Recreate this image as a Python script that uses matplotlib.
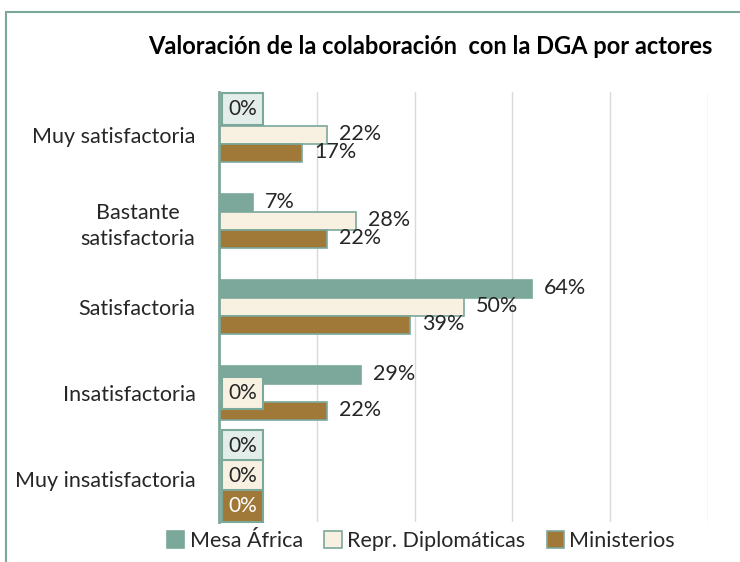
import numpy as np
import matplotlib
matplotlib.use("Agg")
import matplotlib.pyplot as plt
from matplotlib.patches import Rectangle

# data
categorias = ["Muy satisfactoria", "Bastante\nsatisfactoria", "Satisfactoria",
              "Insatisfactoria", "Muy insatisfactoria"]
series = ["Mesa África", "Repr. Diplomáticas", "Ministerios"]
mesa_africa = [0.00, 0.07, 0.64, 0.29, 0.00]
repr_diplo = [0.22, 0.28, 0.50, 0.00, 0.00]
ministerios = [0.17, 0.22, 0.39, 0.22, 0.00]

colores = ["#7BA89B", "#F8F1E1", "#A07837"]
caja_cero = ["#E3EDEA", "#F8F1E1", "#A07837"]
texto_cero = ["#262626", "#262626", "#FFFFFF"]
borde = "#7BA89B"

plt.rcParams['font.family'] = ['Lato', 'DejaVu Sans']

fig = plt.figure(figsize=(7.4, 5.62), dpi=100)
ax = fig.add_axes([219/740, 1-522/562, 489/740, 430/562])

y = np.arange(len(categorias))
h = 0.21
valores = [mesa_africa, repr_diplo, ministerios]
offs = [-h, 0, h]
for k, (vals, nombre) in enumerate(zip(valores, series)):
    pos = y + offs[k]
    ax.barh(pos, vals, height=h, color=colores[k], edgecolor=borde,
            linewidth=1.2, label=nombre)
    for i, (p, v) in enumerate(zip(pos, vals)):
        if v == 0:
            # etiquetas 0% separadas para que no se solapen
            dy = 8
            if i == len(categorias) - 1:
                dy = [15, 3, -9][k]
            elif k == 1:
                dy = 0
            ax.annotate("0%", (0, p), xytext=(9, dy), textcoords="offset pixels",
                        ha="left", va="center", fontsize=15, color=texto_cero[k],
                        bbox=dict(boxstyle="square,pad=0.3", fc=caja_cero[k],
                                  ec=borde, lw=1.5))
        else:
            ax.annotate(f"{v*100:.0f}%", (v, p), xytext=(12, 1),
                        textcoords="offset pixels", ha="left", va="center",
                        fontsize=15.5, color="#262626")

ax.set_xlim(0, 1.0)
ax.set_ylim(len(categorias) - 0.5, -0.5)
ax.set_xticks(np.arange(0.2, 1.01, 0.2))
ax.set_xticklabels([])
ax.tick_params(axis="x", length=0)
ax.set_yticks(y)
ax.set_yticklabels(categorias, ha="right", multialignment="center", linespacing=1.4)
ax.tick_params(axis="y", length=0, labelsize=15.5, colors="#262626", pad=17)
ax.grid(axis="x", color="#D9D9D9", lw=1)
ax.set_axisbelow(True)
for s in ["top", "right", "bottom"]:
    ax.spines[s].set_visible(False)
ax.spines["left"].set_color(borde)
ax.spines["left"].set_linewidth(2)

fig.text(430/740, 1-47/562, "Valoración de la colaboración  con la DGA por actores",
         ha="center", va="center", fontsize=17, fontweight="bold", color="#000000")

fig.legend(loc="center", bbox_to_anchor=(421/740, 1-541/562), ncol=3,
           frameon=False, fontsize=15.5, handlelength=0.8, handleheight=0.8,
           handletextpad=0.25, columnspacing=1.0, labelcolor="#262626")

fig.patches.append(Rectangle((6/740, -0.1), 1.0, 1.1 - 12/562,
                             transform=fig.transFigure, fill=False,
                             edgecolor=borde, lw=1.5))

fig.savefig("out.png", dpi=100)
